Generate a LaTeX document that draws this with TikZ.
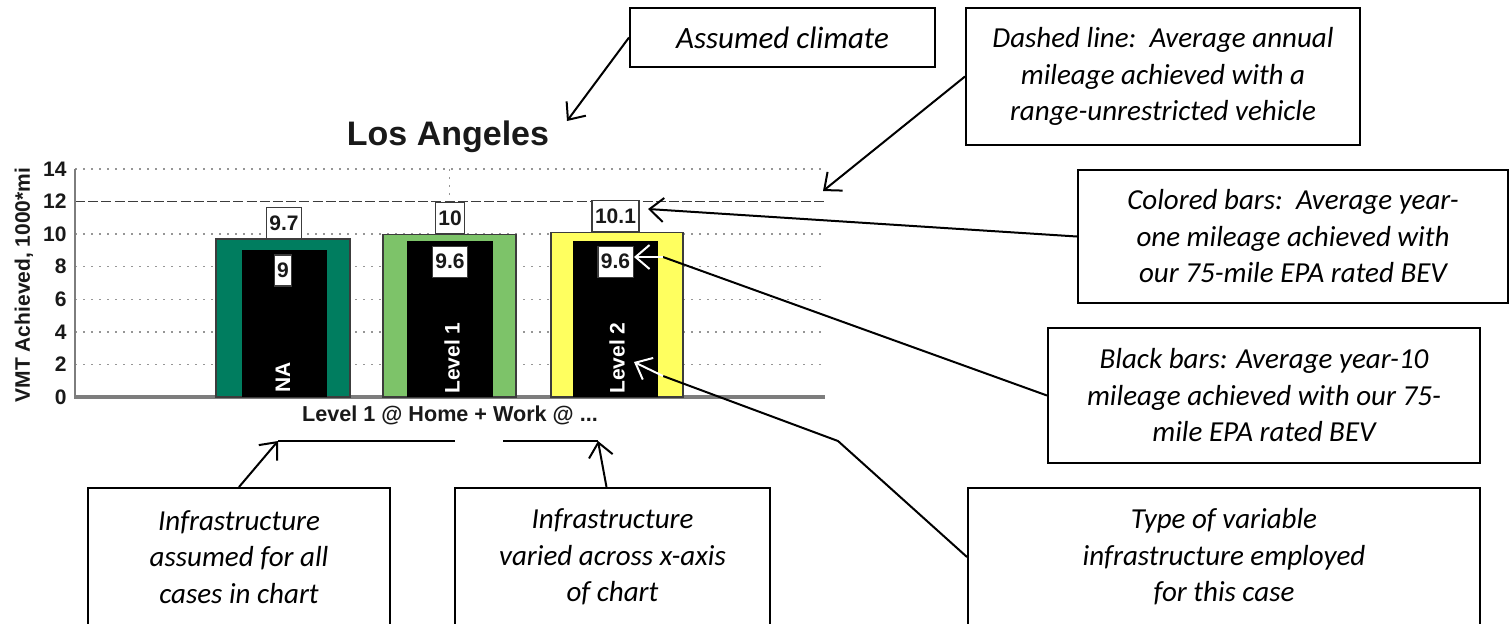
\documentclass[tikz,border=0pt]{standalone}
\usepackage{fontspec}
\usetikzlibrary{arrows.meta}
\newfontfamily\notefam{Carlito}
\newfontfamily\chartfam{Liberation Sans}

\definecolor{barA}{RGB}{0,125,95}
\definecolor{barB}{RGB}{125,195,105}
\definecolor{barC}{RGB}{255,255,95}
\definecolor{gridc}{RGB}{150,150,150}
\definecolor{axisc}{RGB}{125,125,125}
\definecolor{edgec}{RGB}{60,60,60}
\definecolor{inkc}{RGB}{25,25,25}

\tikzset{
  note/.style={draw, line width=1pt, align=center, inner sep=0pt,
    font=\notefam\itshape\fontsize{14.5}{18.25}\selectfont},
  val/.style={fill=white, draw=edgec, line width=0.6pt, inner xsep=1.5pt, inner ysep=0pt,
    minimum height=15.5pt, text=inkc, font=\chartfam\bfseries\fontsize{10.5}{12}\selectfont},
  tick/.style={anchor=east, inner sep=0pt, text=inkc, font=\chartfam\bfseries\fontsize{10.5}{12}\selectfont},
  barname/.style={rotate=90, anchor=west, inner sep=0pt, text=white,
    font=\chartfam\bfseries\fontsize{10.5}{12}\selectfont},
  grid/.style={gridc, line width=0.7pt, dash pattern=on 1.2pt off 2.8pt},
  lead/.style={line width=1pt, -{Straight Barb[length=7pt,width=12pt,line width=1pt]}},
  plain/.style={line width=1pt},
  colbar/.style={draw=edgec, line width=0.6pt},
}

\begin{document}
\begin{tikzpicture}[x=0.5pt, y=-0.5pt]
\useasboundingbox (0,0) rectangle (1511,623);
\clip (0,0) rectangle (1511,623);

% ---- chart: grid, reference line, axes ----
\foreach \v in {2,4,6,8,10,14}
  \draw[grid] (75,{397-16.29*\v}) -- (825,{397-16.29*\v});
\draw[grid] (449.5,{397-16.29*14}) -- (449.5,{397-16.29*10});
\draw[edgec, line width=0.9pt, dash pattern=on 5pt off 1.6pt]
  (75,{397-16.29*12}) -- (825,{397-16.29*12});
\draw[axisc, line width=1pt] (75,{397-16.29*14}) -- (75,397);
\draw[axisc, line width=1.6pt] (74,397) -- (825,397);

\foreach \v in {0,2,...,14}
  \node[tick] (t\v) at (67,{397-16.29*\v}) {\v};
\node[rotate=90, inner sep=0pt, text=inkc, font=\chartfam\bfseries\fontsize{10.5}{12}\selectfont]
  (ylab) at (24,285) {VMT Achieved, 1000*mi};
\node[inner sep=0pt, text=inkc, font=\chartfam\bfseries\fontsize{17}{20}\selectfont]
  (title) at (448,137) {Los Angeles};
\node[inner sep=0pt, text=inkc, font=\chartfam\bfseries\fontsize{10.8}{13}\selectfont]
  (xlab) at (450,415) {Level 1 @ Home + Work @ ...};

% ---- bars: year-one (coloured) and year-10 (black) ----
\draw[colbar, fill=barA] (216,397) rectangle (350,{397-16.29*9.7});
\fill[black] (242,397) rectangle (327,{397-16.29*9});
\draw[colbar, fill=barB] (383,397) rectangle (516,{397-16.29*10});
\fill[black] (407,397) rectangle (493,{397-16.29*9.6});
\draw[colbar, fill=barC] (551,397) rectangle (683,{397-16.29*10.1});
\fill[black] (573,397) rectangle (658,{397-16.29*9.6});

\node[val, anchor=south] (v1) at (284,{397-16.29*9.7}) {9.7};
\node[val, anchor=south] (v2) at (450,{397-16.29*10}) {10};
\node[val, anchor=south] (v3) at (615.5,{397-16.29*10.1}) {10.1};
\node[val, anchor=north] (w1) at (283,{397-16.29*9+4}) {9};
\node[val, anchor=north] (w2) at (450,{397-16.29*9.6+5}) {9.6};
\node[val, anchor=north] (w3) at (615.5,{397-16.29*9.6+5}) {9.6};

\node[barname] (n1) at (283,393) {NA};
\node[barname] (n2) at (452,394) {Level 1};
\node[barname] (n3) at (617,394) {Level 2};

% ---- explanatory notes ----
\node[note, minimum width=152.5pt, minimum height=29.5pt,
  font=\notefam\itshape\fontsize{15.5}{18.5}\selectfont] (clim) at (782.5,37.5) {Assumed climate};
\node[note, minimum width=197pt, minimum height=68.5pt] (dash) at (1163,76.5)
  {Dashed line:\ \ Average annual\\mileage achieved with a\\range-unrestricted vehicle};
\node[note, minimum width=215pt, minimum height=66.5pt] (col) at (1293,236.5)
  {Colored bars:\ \ Average year-\\one mileage achieved with\\our 75-mile EPA rated BEV};
\node[note, minimum width=216pt, minimum height=67.5pt] (blk) at (1264,395.5)
  {Black bars: Average year-10\\mileage achieved with our 75-\\mile EPA rated BEV};
\node[note, minimum width=151pt, minimum height=69pt] (infA) at (239,557)
  {Infrastructure\\assumed for all\\cases in chart};
\node[note, minimum width=157.5pt, minimum height=69pt] (infV) at (612.5,557)
  {Infrastructure\\varied across x-axis\\of chart};
\node[note, minimum width=256pt, minimum height=69pt] (typ) at (1224,557)
  {Type of variable\\infrastructure employed\\for this case};

% ---- leader lines ----
\coordinate (climTip) at (567,121);
\coordinate (dashTip) at (823,191);
\coordinate (colTip) at (648,209);
\coordinate (blkBend) at (663,257);
\coordinate (blkTip) at (634,257);
\coordinate (typBendA) at (838,441);
\coordinate (typBendB) at (663,376);
\coordinate (typTip) at (634,362);
\coordinate (infAL) at (278,441);
\coordinate (infAR) at (455,441);
\coordinate (infVL) at (503,441);
\coordinate (infVR) at (598,441);

\draw[lead] (clim.west) -- (climTip);
\draw[lead] (dash.west) -- (dashTip);
\draw[lead] (col.west) -- (colTip);
\draw[plain] (blk.west) -- (blkBend);
\draw[lead, white] (blkBend) -- (blkTip);
\draw[plain] (typ.west) -- (typBendA) -- (typBendB);
\draw[lead, white] (typBendB) -- (typTip);
\draw[lead] (infA.north) -- (infAL);
\draw[plain] (infAL) -- (infAR);
\draw[lead] ([xshift=-3pt]infV.north) -- (infVR);
\draw[plain] (infVL) -- (infVR);
\end{tikzpicture}
\end{document}
